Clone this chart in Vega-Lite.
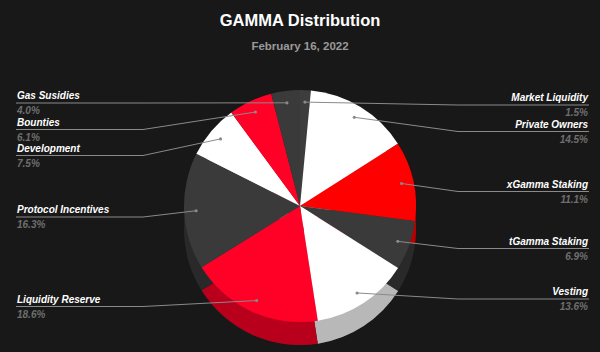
{
  "$schema": "https://vega.github.io/schema/vega-lite/v6.json",
  "width": 600,
  "height": 292,
  "autosize": {"type": "none"},
  "padding": {"top": 60, "left": 0, "right": 0, "bottom": 0},
  "background": "#181818",
  "title": {
    "text": "GAMMA Distribution",
    "subtitle": "February 16, 2022",
    "anchor": "middle",
    "frame": "group",
    "font": "Liberation Sans",
    "fontSize": 16.5,
    "fontWeight": "bold",
    "color": "#ffffff",
    "subtitleFont": "Liberation Sans",
    "subtitleFontSize": 11.5,
    "subtitleFontWeight": "bold",
    "subtitleColor": "#9a9a9a",
    "subtitlePadding": 11,
    "offset": 8
  },
  "config": {"view": {"stroke": null}},
  "data": {
    "values": [
      {"order": 1, "name": "Market Liquidity", "pct": 1.5, "side": "right", "labelY": 105},
      {"order": 2, "name": "Private Owners", "pct": 14.5, "side": "right", "labelY": 131.5},
      {"order": 3, "name": "xGamma Staking", "pct": 11.1, "side": "right", "labelY": 191.5},
      {"order": 4, "name": "tGamma Staking", "pct": 6.9, "side": "right", "labelY": 248.5},
      {"order": 5, "name": "Vesting", "pct": 13.6, "side": "right", "labelY": 299},
      {"order": 6, "name": "Liquidity Reserve", "pct": 18.6, "side": "left", "labelY": 306.5},
      {"order": 7, "name": "Protocol Incentives", "pct": 16.3, "side": "left", "labelY": 217},
      {"order": 8, "name": "Development", "pct": 7.5, "side": "left", "labelY": 155.5},
      {"order": 9, "name": "Bounties", "pct": 6.1, "side": "left", "labelY": 129.5},
      {"order": 10, "name": "Gas Susidies", "pct": 4.0, "side": "left", "labelY": 103}
    ]
  },
  "transform": [
    {"stack": "pct", "groupby": [], "sort": [{"field": "order"}], "as": ["s0", "s1"]},
    {"joinaggregate": [{"op": "sum", "field": "pct", "as": "total"}]},
    {"calculate": "(datum.s0 + datum.s1) / 2 / datum.total * 2 * PI", "as": "mid"},
    {"calculate": "300 + 104 * sin(datum.mid)", "as": "dotx"},
    {"calculate": "206 - 104 * cos(datum.mid)", "as": "doty"},
    {"calculate": "datum.side == 'left' ? 16 : 458", "as": "hx0"},
    {"calculate": "datum.side == 'left' ? 143 : 589", "as": "hx1"},
    {"calculate": "datum.side == 'left' ? 143 : 458", "as": "hin"},
    {"calculate": "format(datum.pct, '.1f') + '%'", "as": "pctLabel"}
  ],
  "layer": [
    {
      "mark": {"type": "arc", "outerRadius": 116, "yOffset": 23},
      "encoding": {
        "theta": {"field": "pct", "type": "quantitative", "stack": true},
        "order": {"field": "order", "type": "quantitative"},
        "color": {
          "field": "name",
          "type": "nominal",
          "scale": {
            "domain": ["Market Liquidity", "Private Owners", "xGamma Staking", "tGamma Staking", "Vesting", "Liquidity Reserve", "Protocol Incentives", "Development", "Bounties", "Gas Susidies"],
            "range": ["#3d3d3d", "#ffffff", "#ff0000", "#3a3a3a", "#ffffff", "#ff0027", "#3a3a3a", "#ffffff", "#ff0027", "#3a3a3a"]
          },
          "legend": null
        }
      }
    },
    {
      "mark": {"type": "arc", "outerRadius": 116, "yOffset": 23, "opacity": 0.28},
      "encoding": {
        "theta": {"field": "pct", "type": "quantitative", "stack": true},
        "order": {"field": "order", "type": "quantitative"},
        "color": {"value": "#000000"}
      }
    },
    {
      "mark": {"type": "arc", "outerRadius": 116},
      "encoding": {
        "theta": {"field": "pct", "type": "quantitative", "stack": true},
        "order": {"field": "order", "type": "quantitative"},
        "color": {"field": "name", "type": "nominal", "legend": null}
      }
    },
    {
      "mark": {"type": "rule", "color": "#8a8a8a", "strokeWidth": 1},
      "encoding": {
        "x": {"field": "hx0", "type": "quantitative", "scale": {"domain": [0, 600], "nice": false, "zero": false}, "axis": null},
        "x2": {"field": "hx1"},
        "y": {"field": "labelY", "type": "quantitative", "scale": {"domain": [60, 352], "reverse": true, "nice": false, "zero": false}, "axis": null}
      }
    },
    {
      "mark": {"type": "rule", "color": "#8a8a8a", "strokeWidth": 1},
      "encoding": {
        "x": {"field": "hin", "type": "quantitative", "axis": null},
        "x2": {"field": "dotx"},
        "y": {"field": "labelY", "type": "quantitative", "axis": null},
        "y2": {"field": "doty"}
      }
    },
    {
      "mark": {"type": "point", "filled": true, "size": 10, "color": "#8a8a8a", "opacity": 1},
      "encoding": {
        "x": {"field": "dotx", "type": "quantitative", "axis": null},
        "y": {"field": "doty", "type": "quantitative", "axis": null}
      }
    },
    {
      "transform": [{"filter": "datum.side == 'left'"}],
      "mark": {"type": "text", "align": "left", "baseline": "alphabetic", "dy": -4, "font": "Liberation Sans", "fontSize": 10, "fontStyle": "italic", "fontWeight": "bold", "color": "#ffffff"},
      "encoding": {
        "x": {"datum": 17, "type": "quantitative", "axis": null},
        "y": {"field": "labelY", "type": "quantitative", "axis": null},
        "text": {"field": "name"}
      }
    },
    {
      "transform": [{"filter": "datum.side == 'right'"}],
      "mark": {"type": "text", "align": "right", "baseline": "alphabetic", "dy": -4, "font": "Liberation Sans", "fontSize": 10, "fontStyle": "italic", "fontWeight": "bold", "color": "#ffffff"},
      "encoding": {
        "x": {"datum": 588, "type": "quantitative", "axis": null},
        "y": {"field": "labelY", "type": "quantitative", "axis": null},
        "text": {"field": "name"}
      }
    },
    {
      "transform": [{"filter": "datum.side == 'left'"}],
      "mark": {"type": "text", "align": "left", "baseline": "alphabetic", "dy": 11, "font": "Liberation Sans", "fontSize": 10, "fontStyle": "italic", "fontWeight": "bold", "color": "#6e6e6e"},
      "encoding": {
        "x": {"datum": 17, "type": "quantitative", "axis": null},
        "y": {"field": "labelY", "type": "quantitative", "axis": null},
        "text": {"field": "pctLabel"}
      }
    },
    {
      "transform": [{"filter": "datum.side == 'right'"}],
      "mark": {"type": "text", "align": "right", "baseline": "alphabetic", "dy": 11, "font": "Liberation Sans", "fontSize": 10, "fontStyle": "italic", "fontWeight": "bold", "color": "#6e6e6e"},
      "encoding": {
        "x": {"datum": 588, "type": "quantitative", "axis": null},
        "y": {"field": "labelY", "type": "quantitative", "axis": null},
        "text": {"field": "pctLabel"}
      }
    }
  ]
}
